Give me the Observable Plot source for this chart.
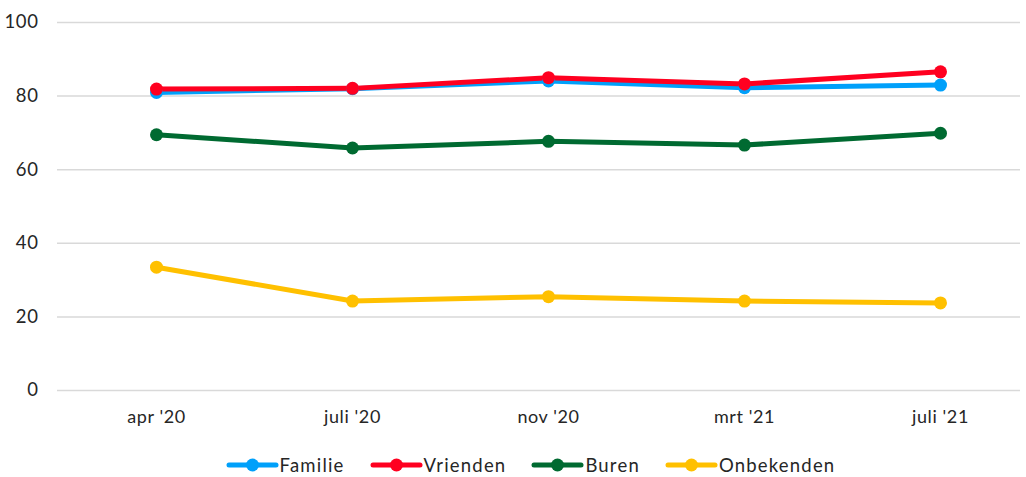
<!DOCTYPE html>
<html>
<head>
<meta charset="utf-8">
<script src="https://cdn.jsdelivr.net/npm/d3@7"></script>
<script src="https://cdn.jsdelivr.net/npm/@observablehq/plot@0.6"></script>
<style>
  html, body { margin: 0; padding: 0; background: #fff; }
  body { width: 1026px; height: 477px; overflow: hidden; font-family: Lato, "Open Sans", sans-serif; color: #262626; }
  #legend { display: flex; justify-content: center; align-items: center; gap: 25px; height: 30px; margin-top: 10px; padding-left: 35px; font-size: 18.5px; letter-spacing: 1.2px; }
  .item { display: flex; align-items: center; gap: 1px; }
  svg text { letter-spacing: 0.6px; }
</style>
</head>
<body>
<div id="chart"></div>
<div id="legend"></div>
<script>
const categories = ["apr '20", "juli '20", "nov '20", "mrt '21", "juli '21"];
const seriesNames = ["Familie", "Vrienden", "Buren", "Onbekenden"];
const familie = [81.0, 82.0, 84.1, 82.3, 83.0];
const vrienden = [81.9, 82.1, 85.0, 83.3, 86.6];
const buren = [69.5, 65.9, 67.7, 66.7, 69.9];
const onbekenden = [33.5, 24.3, 25.5, 24.3, 23.8];
const colors = ["#00A0FA", "#FF0020", "#006A31", "#FFC000"];
const yTicks = [0, 20, 40, 60, 80, 100];

const valuesBySeries = [familie, vrienden, buren, onbekenden];
const data = [];
seriesNames.forEach((s, si) => {
  categories.forEach((c, ci) => data.push({series: s, cat: c, value: valuesBySeries[si][ci]}));
});

const chart = Plot.plot({
  width: 1026,
  height: 440,
  marginTop: 22,
  marginBottom: 50,
  marginLeft: 57,
  marginRight: 6,
  style: {fontFamily: "Lato, 'Open Sans', sans-serif", color: "#262626"},
  x: {type: "point", domain: categories, range: [155, 940], padding: 0},
  y: {domain: [0, 100]},
  color: {domain: seriesNames, range: colors},
  marks: [
    Plot.gridY(yTicks, {stroke: "#d9d9d9", strokeOpacity: 1, strokeWidth: 1.5}),
    Plot.axisY({ticks: yTicks, tickSize: 0, tickPadding: 19, fontSize: 18.5, label: null}),
    Plot.axisX({tickSize: 0, tickPadding: 20, fontSize: 18, label: null}),
    Plot.line(data, {x: "cat", y: "value", z: "series", stroke: "series", strokeWidth: 5, strokeLinejoin: "round", strokeLinecap: "round"}),
    Plot.dot(data, {x: "cat", y: "value", fill: "series", r: 6.5, stroke: "none"})
  ]
});
document.getElementById("chart").appendChild(chart);

const legend = document.getElementById("legend");
seriesNames.forEach((s, i) => {
  const item = document.createElement("div");
  item.className = "item";
  item.innerHTML = `<svg width="53" height="16"><line x1="3" y1="8" x2="50" y2="8" stroke="${colors[i]}" stroke-width="5" stroke-linecap="round"/><circle cx="26.5" cy="8" r="6.5" fill="${colors[i]}"/></svg><span>${s}</span>`;
  legend.appendChild(item);
});
</script>
</body>
</html>
